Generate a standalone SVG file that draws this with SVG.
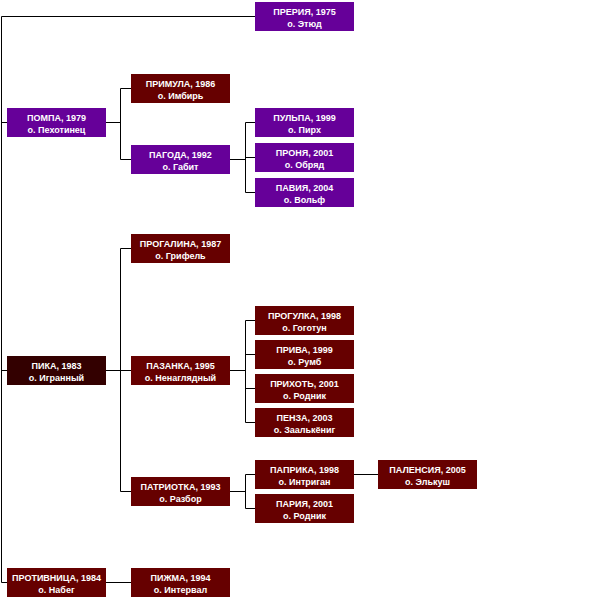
<svg xmlns="http://www.w3.org/2000/svg" width="598" height="600" viewBox="0 0 598 600">
<style>
.p{fill:#660099}
.m{fill:#660000}
.d{fill:#330000}
text{font-family:"Liberation Sans",Arial,sans-serif;font-size:9px;font-weight:bold;fill:#fff;text-anchor:middle}
.c path{fill:none;stroke:#000;stroke-width:1}
</style>
<rect width="598" height="600" fill="#fff"/>
<g class="c" id="connectors">
<path d="M255,16.5H1.5V582.5H7M1.5,122.5H7M1.5,370.5H7"/>
<path d="M106,122.5H120.5M120.5,88.5V159.5M120.5,88.5H131M120.5,159.5H131"/>
<path d="M230,159.5H245.5M245.5,122.5V192.5M245.5,122.5H255M245.5,157.5H255M245.5,192.5H255"/>
<path d="M106,370.5H120.5M120.5,248.5V491.5M120.5,248.5H131M120.5,370.5H131M120.5,491.5H131"/>
<path d="M230,370.5H245.5M245.5,320.5V422.5M245.5,320.5H255M245.5,354.5H255M245.5,388.5H255M245.5,422.5H255"/>
<path d="M230,491.5H245.5M245.5,474.5V508.5M245.5,474.5H255M245.5,508.5H255"/>
<path d="M354,474.5H378"/>
<path d="M106,582.5H131"/>
</g>
<g id="n_preriya"><rect class="p" x="255" y="2" width="99" height="29"/><text x="304.5" y="14.5">ПРЕРИЯ, 1975</text><text x="304.5" y="27">о. Этюд</text></g>
<g id="n_pompa"><rect class="p" x="7" y="108" width="99" height="29"/><text x="56.5" y="120.5">ПОМПА, 1979</text><text x="56.5" y="133">о. Пехотинец</text></g>
<g id="n_primula"><rect class="m" x="131" y="74" width="99" height="29"/><text x="180.5" y="86.5">ПРИМУЛА, 1986</text><text x="180.5" y="99">о. Имбирь</text></g>
<g id="n_pagoda"><rect class="p" x="131" y="145" width="99" height="29"/><text x="180.5" y="157.5">ПАГОДА, 1992</text><text x="180.5" y="170">о. Габит</text></g>
<g id="n_pulpa"><rect class="p" x="255" y="108" width="99" height="29"/><text x="304.5" y="120.5">ПУЛЬПА, 1999</text><text x="304.5" y="133">о. Пирх</text></g>
<g id="n_pronya"><rect class="p" x="255" y="143" width="99" height="29"/><text x="304.5" y="155.5">ПРОНЯ, 2001</text><text x="304.5" y="168">о. Обряд</text></g>
<g id="n_paviya"><rect class="p" x="255" y="178" width="99" height="29"/><text x="304.5" y="190.5">ПАВИЯ, 2004</text><text x="304.5" y="203">о. Вольф</text></g>
<g id="n_progalina"><rect class="m" x="131" y="234" width="99" height="29"/><text x="180.5" y="246.5">ПРОГАЛИНА, 1987</text><text x="180.5" y="259">о. Грифель</text></g>
<g id="n_pika"><rect class="d" x="7" y="356" width="99" height="29"/><text x="56.5" y="368.5">ПИКА, 1983</text><text x="56.5" y="381">о. Игранный</text></g>
<g id="n_pazanka"><rect class="m" x="131" y="356" width="99" height="29"/><text x="180.5" y="368.5">ПАЗАНКА, 1995</text><text x="180.5" y="381">о. Ненаглядный</text></g>
<g id="n_progulka"><rect class="m" x="255" y="306" width="99" height="29"/><text x="304.5" y="318.5">ПРОГУЛКА, 1998</text><text x="304.5" y="331">о. Гоготун</text></g>
<g id="n_priva"><rect class="m" x="255" y="340" width="99" height="29"/><text x="304.5" y="352.5">ПРИВА, 1999</text><text x="304.5" y="365">о. Румб</text></g>
<g id="n_prikhot"><rect class="m" x="255" y="374" width="99" height="29"/><text x="304.5" y="386.5">ПРИХОТЬ, 2001</text><text x="304.5" y="399">о. Родник</text></g>
<g id="n_penza"><rect class="m" x="255" y="408" width="99" height="29"/><text x="304.5" y="420.5">ПЕНЗА, 2003</text><text x="304.5" y="433">о. Заалькёниг</text></g>
<g id="n_patriotka"><rect class="m" x="131" y="477" width="99" height="29"/><text x="180.5" y="489.5">ПАТРИОТКА, 1993</text><text x="180.5" y="502">о. Разбор</text></g>
<g id="n_paprika"><rect class="m" x="255" y="460" width="99" height="29"/><text x="304.5" y="472.5">ПАПРИКА, 1998</text><text x="304.5" y="485">о. Интриган</text></g>
<g id="n_palensiya"><rect class="m" x="378" y="460" width="99" height="29"/><text x="427.5" y="472.5">ПАЛЕНСИЯ, 2005</text><text x="427.5" y="485">о. Элькуш</text></g>
<g id="n_pariya"><rect class="m" x="255" y="494" width="99" height="29"/><text x="304.5" y="506.5">ПАРИЯ, 2001</text><text x="304.5" y="519">о. Родник</text></g>
<g id="n_protivnitsa"><rect class="m" x="7" y="568" width="99" height="29"/><text x="56.5" y="580.5">ПРОТИВНИЦА, 1984</text><text x="56.5" y="593">о. Набег</text></g>
<g id="n_pizhma"><rect class="m" x="131" y="568" width="99" height="29"/><text x="180.5" y="580.5">ПИЖМА, 1994</text><text x="180.5" y="593">о. Интервал</text></g>
</svg>
